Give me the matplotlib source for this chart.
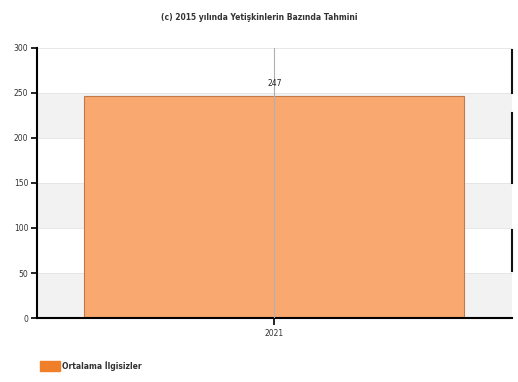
import numpy as np
import matplotlib.pyplot as plt

categories = ['2021']
values = [247]
series_name = 'Ortalama İlgisizler'
title = '(c) 2015 yılında Yetişkinlerin Bazında Tahmini'
yticks = [0, 50, 100, 150, 200, 250, 300]

fig = plt.figure(figsize=(5.18, 3.82), dpi=100)
ax = fig.add_axes([0.071, 0.1675, 0.917, 0.707])

# alternating bands
for i, lo in enumerate(yticks[:-1]):
    if i % 2 == 0:
        ax.axhspan(lo, lo + 50, color='#f2f2f2', zorder=0, lw=0)
for t in yticks[1:]:
    ax.axhline(t, color='#e3e3e3', lw=0.6, zorder=0.5)

x = np.arange(len(categories))
bars = ax.bar(x, values, width=0.8, color='#f9a870', edgecolor='#c07a4a',
              linewidth=0.8, zorder=2)
ax.axvline(0, color='#b0b0b0', lw=0.8, zorder=3)
for b, v in zip(bars, values):
    ax.text(b.get_x() + b.get_width() / 2, v + 8, str(v), ha='center',
            va='bottom', fontsize=5.5, color='#222222', zorder=4)

ax.set_xlim(-0.5, 0.5)
ax.set_ylim(0, 300)
ax.set_yticks(yticks)
ax.set_yticklabels([str(t) for t in yticks], fontsize=5.5, color='#333333')
ax.set_xticks(x)
ax.set_xticklabels(categories, fontsize=5.5, color='#333333')
ax.tick_params(axis='y', length=4, width=1.2, direction='out', pad=2)
ax.tick_params(axis='x', length=5, width=1.2, direction='out', pad=3)

for s in ['top', 'right']:
    ax.spines[s].set_visible(False)
ax.spines['left'].set_linewidth(1.5)
ax.spines['bottom'].set_linewidth(1.5)

# right edge segments
for y0, y1 in [(250, 298), (150, 228), (52, 98)]:
    ax.plot([1.0, 1.0], [y0, y1], color='#111111', lw=1.5,
            transform=ax.get_yaxis_transform(), clip_on=False)

fig.text(0.5, 0.955, title, ha='center', va='center', fontsize=5.5,
         color='#333333', fontweight='bold')

fig.patches.append(plt.Rectangle((0.078, 0.028), 0.038, 0.027,
                                 transform=fig.transFigure, color='#f07f2a'))
fig.text(0.12, 0.042, series_name, ha='left', va='center', fontsize=5.5,
         color='#333333', fontweight='bold')

fig.savefig('out.png', dpi=100)
